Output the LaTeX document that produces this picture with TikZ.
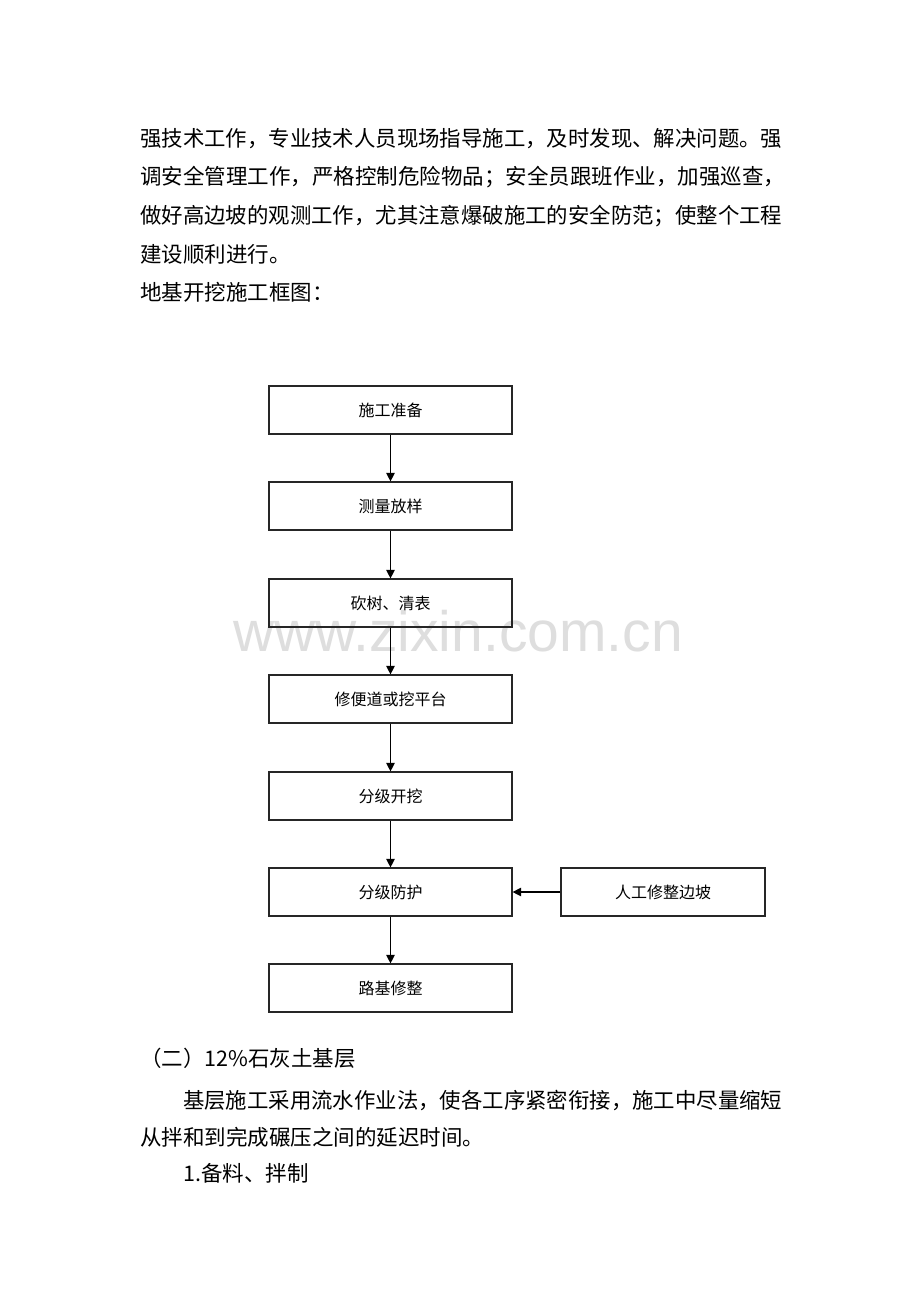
\documentclass[tikz,border=0pt]{standalone}
\usepackage{fontspec}
\usepackage{graphicx}
\newfontfamily\cjk{Noto Sans CJK SC}
\newfontfamily\wmfont{Liberation Sans}
\usetikzlibrary{arrows.meta}

\begin{document}
\begin{tikzpicture}[x=1pt, y=-1pt,
    >={Triangle[length=8.5pt, width=8.5pt]},
    proc/.style={rectangle, draw=black!85, line width=1.2pt, minimum width=243pt, minimum height=48pt, inner sep=0pt, font=\cjk\fontsize{16}{18}\selectfont},
    side/.style={proc, minimum width=204pt},
    para/.style={anchor=west, inner sep=0pt, font=\cjk\fontsize{21.5}{24}\selectfont},
    link/.style={->, line width=1.2pt}
]
    \useasboundingbox[fill=white] (0,0) rectangle (920,1302);

    % watermark
    \node[anchor=base, inner sep=0pt, text height=0.55em, text=black!13, font=\wmfont\fontsize{57}{60}\selectfont] (wm) at (458,651) {www.zixin.com.cn};

    % text above the chart
    \node[para] (t1) at (140,139) {\resizebox{642pt}{\height}{强技术工作，专业技术人员现场指导施工，及时发现、解决问题。强}};
    \node[para] (t2) at (140,177) {\resizebox{645pt}{\height}{调安全管理工作，严格控制危险物品；安全员跟班作业，加强巡查，}};
    \node[para] (t3) at (140,216) {\resizebox{642pt}{\height}{做好高边坡的观测工作，尤其注意爆破施工的安全防范；使整个工程}};
    \node[para] (t4) at (140,254) {建设顺利进行。};
    \node[para] (t5) at (140,292) {地基开挖施工框图：};

    % chart
    \node[proc] (prep) at (390.5,410) {施工准备};
    \node[proc] (survey) at (390.5,506) {测量放样};
    \node[proc] (clear) at (390.5,603) {砍树、清表};
    \node[proc] (road) at (390.5,699) {修便道或挖平台};
    \node[proc] (dig) at (390.5,796) {分级开挖};
    \node[proc] (guard) at (390.5,892) {分级防护};
    \node[proc] (trim) at (390.5,988) {路基修整};
    \node[side] (slope) at (663,892) {人工修整边坡};

    \draw[link] (prep) -- (survey);
    \draw[link] (survey) -- (clear);
    \draw[link] (clear) -- (road);
    \draw[link] (road) -- (dig);
    \draw[link] (dig) -- (guard);
    \draw[link] (guard) -- (trim);
    \draw[link] (slope) -- (guard);

    % text below the chart
    \node[para] (b1) at (140,1058) {（二）12\%石灰土基层};
    \node[para] (b2) at (183,1100) {\resizebox{599pt}{\height}{基层施工采用流水作业法，使各工序紧密衔接，施工中尽量缩短}};
    \node[para] (b3) at (140,1137) {从拌和到完成碾压之间的延迟时间。};
    \node[para] (b4) at (183,1173) {1.备料、拌制};
\end{tikzpicture}
\end{document}
